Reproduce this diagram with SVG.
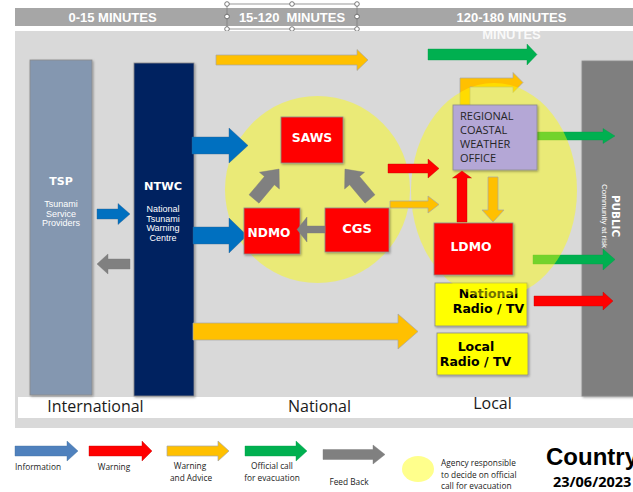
<svg xmlns="http://www.w3.org/2000/svg" width="633" height="492" viewBox="0 0 633 492">
<defs>
<filter id="sh" x="-10%" y="-10%" width="130%" height="130%"><feDropShadow dx="1" dy="1.2" stdDeviation="0.9" flood-color="#000" flood-opacity="0.35"/></filter>
</defs>
<style>
.hdr{font-family:"Liberation Sans",Arial,sans-serif;font-weight:bold;font-size:13px;fill:#fff;text-anchor:middle}
.zone{font-family:"Open Sans","Noto Sans",sans-serif;font-size:16px;fill:#1a1a1a;text-anchor:middle}
.big{font-family:"DejaVu Sans",sans-serif;font-weight:bold;fill:#fff;text-anchor:middle}
.sm{font-family:"Liberation Sans",Arial,sans-serif;font-size:9px;fill:#fff;text-anchor:middle}
.reg{font-family:"Open Sans","Noto Sans",sans-serif;font-size:11px;fill:#262626}
.blk{font-family:"DejaVu Sans",sans-serif;font-weight:bold;font-size:12.5px;fill:#000;text-anchor:middle}
.leg{font-family:"Open Sans","Noto Sans",sans-serif;font-size:8.3px;fill:#222;text-anchor:middle}
.legl{font-family:"Open Sans","Noto Sans",sans-serif;font-size:8.3px;fill:#222}
.box{stroke:#8c8c8c;stroke-width:0.8;filter:url(#sh)}
.blue{fill:#0070c0;stroke:#2e5f8f;stroke-width:0.4}
.red{fill:#ff0000;stroke:#c00000;stroke-width:0.4}
.yel{fill:#ffc000;stroke:#a6a6a6;stroke-width:0.7}
.grn{fill:#00b050;stroke:#00a048;stroke-width:0.4}
.gry{fill:#808080;stroke:#7a7a7a;stroke-width:0.4}
.ell{fill:#ffff00;fill-opacity:0.45}
.hd{fill:#fff;stroke:#595959;stroke-width:0.8}
</style>
<rect width="633" height="492" fill="#fff"/>
<!-- header -->
<rect x="15" y="8" width="618" height="18" fill="#a6a6a6"/>
<text class="hdr" x="112.5" y="21.5">0-15 MINUTES</text>
<text class="hdr" x="292" y="21.5" xml:space="preserve">15-120  MINUTES</text>
<text class="hdr" x="511.5" y="22">120-180 MINUTES</text>
<g id="selection">
<rect x="227" y="4" width="130" height="25" fill="none" stroke="#7f7f7f" stroke-width="0.8"/>
<circle class="hd" cx="227" cy="4" r="2.3"/><circle class="hd" cx="292" cy="4" r="2.3"/><circle class="hd" cx="357" cy="4" r="2.3"/>
<circle class="hd" cx="227" cy="16.5" r="2.3"/><circle class="hd" cx="357" cy="16.5" r="2.3"/>
<circle class="hd" cx="227" cy="29" r="2.3"/><circle class="hd" cx="292" cy="29" r="2.3"/><circle class="hd" cx="357" cy="29" r="2.3"/>
</g>
<!-- main area -->
<rect x="15" y="31" width="618" height="397" fill="#d9d9d9"/>
<rect x="18" y="397" width="615" height="21" fill="#fff"/>
<text class="zone" x="95.5" y="412">International</text>
<text class="zone" x="319.5" y="412">National</text>
<text class="zone" x="492.5" y="409">Local</text>
<text x="511.5" y="39" font-family="Liberation Sans,Arial,sans-serif" font-weight="bold" font-size="13" fill="#fff" fill-opacity="0.85" text-anchor="middle">MINUTES</text>

<g id="tsp">
<rect class="box" x="30" y="60" width="62" height="335" fill="#8497b0"/>
<text class="big" x="61" y="185" font-size="11">TSP</text>
<text class="sm" x="61" y="207">Tsunami</text>
<text class="sm" x="61" y="216.5">Service</text>
<text class="sm" x="61" y="226">Providers</text>
</g>
<g id="ntwc">
<rect class="box" x="134" y="63" width="60" height="333" fill="#002060"/>
<text class="big" x="163" y="190" font-size="11.3">NTWC</text>
<text class="sm" x="163" y="212">National</text>
<text class="sm" x="163" y="221.5">Tsunami</text>
<text class="sm" x="163" y="231">Warning</text>
<text class="sm" x="163" y="240.5">Centre</text>
</g>
<g id="public">
<rect class="box" x="582" y="61" width="60" height="335" fill="#7f7f7f"/>
<text class="big" font-size="10.4" transform="translate(612,216) rotate(90)">PUBLIC</text>
<text font-family="Liberation Sans,Arial,sans-serif" font-size="8" fill="#fff" text-anchor="middle" transform="translate(601.5,216) rotate(90)">Community at risk</text>
</g>

<g id="connectors">
<polygon class="grn" points="537,132 603,132 603,128.5 615,136 603,143.5 603,140 537,140"/>
<polygon class="grn" points="533,255 603,255 603,249 615,259.5 603,270 603,264 533,264"/>
<polygon class="yel" points="460,106 460,78 513,78 513,72.5 523,82.5 513,92.5 513,87 470,87 470,106"/>
</g>

<g id="national-radio-tv">
<rect class="box" x="435" y="283" width="92" height="43" fill="#ffff00"/>
<text class="blk" x="488.5" y="298">National</text>
<text class="blk" x="488.5" y="313">Radio / TV</text>
</g>

<g id="zones">
<ellipse class="ell" cx="317.5" cy="189.5" rx="92.5" ry="93.5"/>
<ellipse class="ell" cx="494" cy="190.5" rx="83" ry="107.5"/>
</g>

<g id="connectors2">
<polygon class="blue" points="97,209 118,209 118,203.5 130,214 118,224.5 118,219 97,219"/>
<polygon class="gry" points="130,259 108,259 108,254 97,264 108,274 108,269 130,269"/>
<polygon class="blue" points="192,137 229,137 229,128 248,145.5 229,163 229,154 192,154"/>
<polygon class="blue" points="193,227 229,227 229,218 247,235.5 229,253 229,244 193,244"/>
<polygon class="yel" points="216,55 357,55 357,49.5 368,60 357,70.5 357,65 216,65"/>
<polygon class="yel" points="193,323 398,323 398,314 418,331.5 398,349 398,340 193,340"/>
<polygon class="grn" points="428,49 527,49 527,44 537,54.5 527,65 527,60 428,60"/>
<polygon class="red" points="388,164 428,164 428,159 439,168.5 428,178 428,173 388,173"/>
<polygon class="yel" points="390,201 428,201 428,196 439,204.5 428,213 428,208 390,208"/>
<polygon class="red" points="534,296 603,296 603,292 613,301 603,310 603,306 534,306"/>
<polygon class="gry" points="0,-6.5 24,-6.5 24,-13 39,0 24,13 24,6.5 0,6.5" transform="translate(254,199) rotate(-50)"/>
<polygon class="gry" points="0,-6.5 24,-6.5 24,-13 39,0 24,13 24,6.5 0,6.5" transform="translate(370,199) rotate(-130)"/>
</g>

<g id="saws">
<rect class="box" x="281" y="117" width="62" height="46" fill="#ff0000"/>
<text class="big" x="312" y="141.5" font-size="12.4">SAWS</text>
</g>
<g id="ndmo">
<rect class="box" x="244" y="208" width="56" height="46" fill="#ff0000"/>
<text class="big" x="269" y="236.5" font-size="12.2">NDMO</text>
</g>
<g id="cgs">
<rect class="box" x="325" y="208" width="64" height="44" fill="#ff0000"/>
<text class="big" x="357" y="233" font-size="13">CGS</text>
</g>
<g id="regional">
<rect class="box" x="453" y="105" width="84" height="65" fill="#b4a7d6"/>
<text class="reg" x="460" y="120">REGIONAL</text>
<text class="reg" x="460" y="134">COASTAL</text>
<text class="reg" x="460" y="148">WEATHER</text>
<text class="reg" x="460" y="162">OFFICE</text>
</g>
<g id="ldmo">
<rect class="box" x="434" y="223" width="79" height="52" fill="#ff0000"/>
<text class="big" x="471" y="251" font-size="12.4">LDMO</text>
</g>
<g id="local-radio-tv">
<rect class="box" x="437" y="333" width="91" height="42" fill="#ffff00"/>
<text class="blk" x="476" y="351" font-size="12">Local</text>
<text class="blk" x="475.5" y="365.5" font-size="12">Radio / TV</text>
</g>

<g id="connectors3">
<polygon class="gry" points="325,226 307,226 307,217 297,229.5 307,242 307,233 325,233"/>
<polygon class="red" points="457,222 457,178 452.5,178 462,171 471.5,178 467,178 467,222"/>
<polygon class="yel" points="488,177 498,177 498,210 504,210 493,222 482,210 488,210"/>
</g>

<g id="legend">
<polygon points="15,446 67,446 67,441 78,451 67,461 67,456 15,456" fill="#4f81bd" stroke="#41719c" stroke-width="0.4"/>
<text class="legl" x="15" y="470">Information</text>
<polygon class="red" points="89,446 142,446 142,441 152,451 142,461 142,456 89,456"/>
<text class="leg" x="114" y="470">Warning</text>
<polygon class="yel" points="167,446 218,446 218,441 229,451 218,461 218,456 167,456"/>
<text class="leg" x="190" y="468.5">Warning</text>
<text class="leg" x="191" y="480.5">and Advice</text>
<polygon class="grn" points="245,446 296,446 296,441 307,451 296,461 296,456 245,456"/>
<text class="leg" x="272" y="469">Official call</text>
<text class="leg" x="272" y="481">for evacuation</text>
<polygon class="gry" points="323,449.5 373,449.5 373,445 385,454.5 373,464 373,459.5 323,459.5"/>
<text class="leg" x="349" y="485">Feed Back</text>
<ellipse cx="418" cy="469" rx="16" ry="13" fill="#ffff8c"/>
<text class="legl" x="441" y="466">Agency responsible</text>
<text class="legl" x="441" y="477.5">to decide on official</text>
<text class="legl" x="441" y="489">call for evacuation</text>
<text x="546" y="465" font-family="Liberation Sans,Arial,sans-serif" font-weight="bold" font-size="24" fill="#000">Country</text>
<text x="553" y="487" font-family="Open Sans,Noto Sans,sans-serif" font-weight="bold" font-size="14.5" fill="#000">23/06/2023</text>
</g>
</svg>
